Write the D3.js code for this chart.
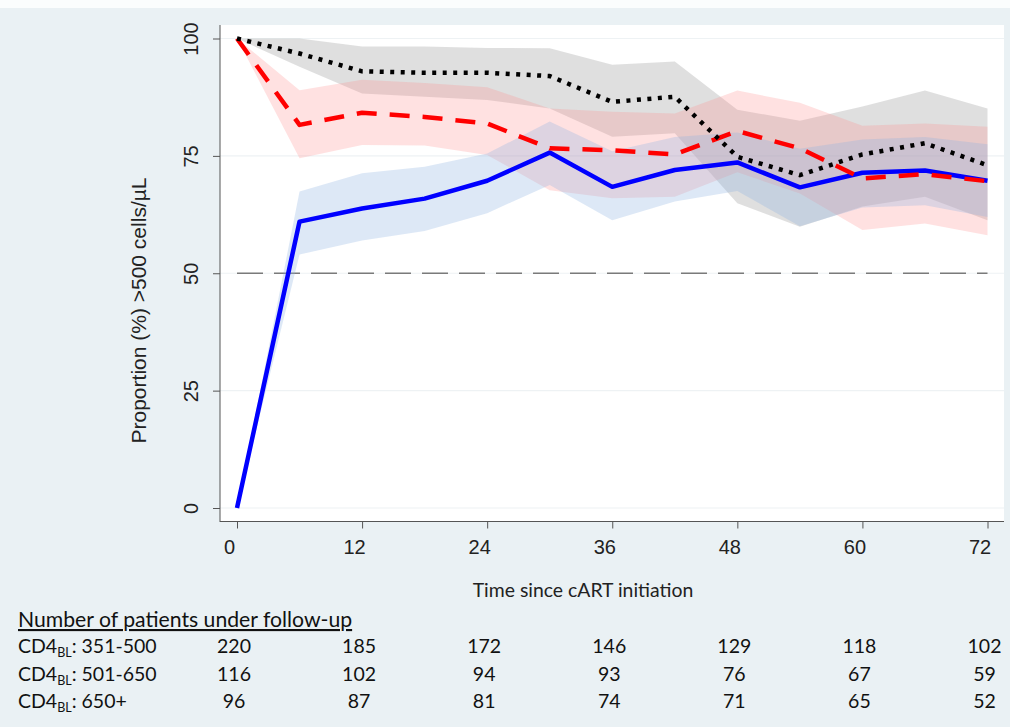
<!DOCTYPE html>
<html>
<head>
<meta charset="utf-8">
<title>CD4 proportion</title>
<style>
  body { margin: 0; background: #eaf1f4; }
  svg { display: block; }
</style>
</head>
<body>
<svg width="1010" height="727"></svg>
<script src="https://d3js.org/d3.v7.min.js"></script>
<script>
// months since cART initiation
var months = [0, 6, 12, 18, 24, 30, 36, 42, 48, 54, 60, 66, 72];

// CD4 baseline 351-500 (blue, solid)
var low = [0, 61, 63.8, 65.9, 69.7, 75.7, 68.4, 72, 73.6, 68.3, 71.4, 71.9, 69.7];
var lowLo = [0, 54, 57, 59, 62.8, 68.8, 61.3, 65.3, 67.5, 60, 64, 64.5, 62];
var lowHi = [0, 67.4, 71.3, 72.7, 75.5, 82.3, 76, 79, 80, 76.5, 78.5, 79, 77.5];

// CD4 baseline 501-650 (red, dashed)
var mid = [100, 81.6, 84.2, 83.3, 81.9, 76.6, 76.2, 75.3, 80.3, 76.6, 70.2, 71.1, 69.6];
var midLo = [100, 74.5, 77.3, 77.2, 75.2, 67.7, 66, 66.3, 71.5, 67, 59.2, 60.6, 58.1];
var midHi = [100, 89, 91.2, 90.5, 89.6, 85.1, 84.4, 84, 88.9, 86.3, 81.4, 81.9, 81.2];

// CD4 baseline 650+ (black, dotted)
var high = [100, 96.8, 93, 92.7, 92.7, 92, 86.5, 87.6, 74.8, 70.9, 75.3, 77.7, 73];
var highLo = [100, 94, 88.3, 87.6, 86.9, 85.1, 79.1, 79.8, 64.9, 59.9, 64.2, 66.3, 61.3];
var highHi = [100, 100, 98.3, 98.3, 98, 97.9, 94.4, 95.1, 84.8, 82.5, 85.5, 88.9, 85.1];

var xTicks = [0, 12, 24, 36, 48, 60, 72];
var yTicks = [0, 25, 50, 75, 100];

// patients under follow-up
var rowLabels = [": 351-500", ": 501-650", ": 650+"];
var atRisk = [
  [220, 185, 172, 146, 129, 118, 102],
  [116, 102, 94, 93, 76, 67, 59],
  [96, 87, 81, 74, 71, 65, 52]
];

var svg = d3.select("svg");

var x = d3.scaleLinear().domain([0, 72]).range([237, 987.5]);
var y = d3.scaleLinear().domain([0, 100]).range([508, 38.5]);

// top strip + white plot region
svg.append("rect").attr("x", 0).attr("y", 0).attr("width", 1010).attr("height", 8).attr("fill", "#fbfdfd");
svg.append("rect").attr("x", 220).attr("y", 25).attr("width", 784).attr("height", 497).attr("fill", "#ffffff");

// faint grid
svg.append("g").selectAll("line").data(yTicks).enter().append("line")
  .attr("x1", 220).attr("x2", 1004)
  .attr("y1", function(d) { return y(d); })
  .attr("y2", function(d) { return y(d); })
  .attr("stroke", "#eef2f4").attr("stroke-width", 1.2);

// 50% reference
svg.append("line")
  .attr("x1", x(0)).attr("x2", x(72))
  .attr("y1", y(50)).attr("y2", y(50))
  .attr("stroke", "#7a7a7a").attr("stroke-width", 1.6)
  .attr("stroke-dasharray", "26,11");

var series = [
  { mean: high, lo: highLo, hi: highHi, band: "#9a9a9a", bandOp: 0.32, color: "#000000", dash: "4,6.5" },
  { mean: mid, lo: midLo, hi: midHi, band: "#ff8a8a", bandOp: 0.26, color: "#ff0000", dash: "20,13" },
  { mean: low, lo: lowLo, hi: lowHi, band: "#8fb4e0", bandOp: 0.3, color: "#0000ff", dash: null }
];

var area = d3.area()
  .x(function(d) { return x(d.t); })
  .y0(function(d) { return y(d.lo); })
  .y1(function(d) { return y(d.hi); });

var line = d3.line()
  .x(function(d) { return x(d.t); })
  .y(function(d) { return y(d.v); });

series.forEach(function(s) {
  var pts = months.map(function(t, i) { return { t: t, lo: s.lo[i], hi: s.hi[i] }; });
  svg.append("path").attr("d", area(pts))
    .attr("fill", s.band).attr("fill-opacity", s.bandOp);
});

series.slice().reverse().forEach(function(s) {
  var pts = months.map(function(t, i) { return { t: t, v: s.mean[i] }; });
  svg.append("path").attr("d", line(pts))
    .attr("fill", "none")
    .attr("stroke", s.color)
    .attr("stroke-width", 4.5)
    .attr("stroke-linejoin", "round")
    .attr("stroke-dasharray", s.dash);
});

// axes
var yAxis = svg.append("g").attr("transform", "translate(220,0)")
  .call(d3.axisLeft(y).tickValues(yTicks).tickSize(7).tickPadding(4).tickSizeOuter(0));
yAxis.select(".domain").attr("d", "M0,25V522").attr("stroke", "#555");
yAxis.selectAll(".tick line").attr("stroke", "#555");
yAxis.selectAll(".tick text")
  .attr("font-family", "Liberation Sans, Arial, sans-serif")
  .attr("font-size", 20).attr("fill", "#222")
  .attr("text-anchor", "middle")
  .attr("x", 0).attr("dy", 0)
  .attr("transform", "translate(-29,0) rotate(-90)")
  .attr("dominant-baseline", "central");

var xAxis = svg.append("g").attr("transform", "translate(0,521.5)")
  .call(d3.axisBottom(x).tickValues(xTicks).tickSize(7).tickPadding(11).tickSizeOuter(0));
xAxis.select(".domain").attr("d", "M220,0H1004").attr("stroke", "#555");
xAxis.selectAll(".tick line").attr("stroke", "#555");
xAxis.selectAll(".tick text")
  .attr("font-family", "Liberation Sans, Arial, sans-serif")
  .attr("font-size", 20).attr("fill", "#222")
  .attr("dx", -8);

// axis titles
svg.append("text")
  .attr("transform", "translate(146,310.5) rotate(-90)")
  .attr("text-anchor", "middle")
  .attr("font-family", "Liberation Sans, Arial, sans-serif")
  .attr("font-size", 21).attr("fill", "#222")
  .text("Proportion (%) >500 cells/µL");

svg.append("text")
  .attr("x", 583).attr("y", 597)
  .attr("text-anchor", "middle")
  .attr("font-family", "Lato, sans-serif")
  .attr("font-size", 19.4).attr("fill", "#222")
  .text("Time since cART initiation");

// numbers at risk table
var tableFont = "Lato, sans-serif";
svg.append("text")
  .attr("x", 18).attr("y", 627)
  .attr("font-family", tableFont).attr("font-size", 21.2).attr("fill", "#111")
  .attr("text-decoration", "underline")
  .text("Number of patients under follow-up");

var rowY = [653, 681, 708];
rowLabels.forEach(function(lab, r) {
  var t = svg.append("text")
    .attr("x", 18).attr("y", rowY[r])
    .attr("font-family", tableFont).attr("font-size", 19.5).attr("fill", "#111");
  t.append("tspan").text("CD4");
  t.append("tspan").attr("font-size", 12.5).attr("dy", 4).text("BL");
  t.append("tspan").attr("dy", -4).text(lab);

  svg.append("g").selectAll("text").data(atRisk[r]).enter().append("text")
    .attr("x", function(d, i) { return x(xTicks[i]) - 3; })
    .attr("y", rowY[r])
    .attr("text-anchor", "middle")
    .attr("font-family", tableFont).attr("font-size", 19.5).attr("fill", "#111")
    .text(function(d) { return d; });
});
</script>
</body>
</html>
